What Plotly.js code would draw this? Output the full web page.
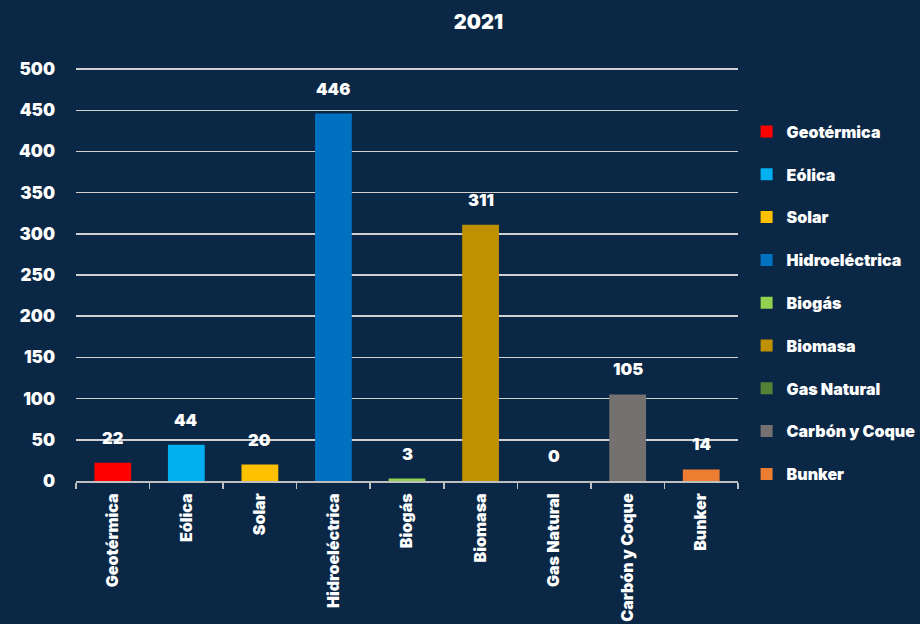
<!DOCTYPE html>
<html><head><meta charset="utf-8">
<script src="https://cdn.plot.ly/plotly-3.0.1.min.js"></script>
<style>html,body{margin:0;padding:0;background:#0a2846;}</style>
</head><body>
<div id="chart" style="width:920px;height:624px;"></div>
<script>
const categories = ["Geotérmica","Eólica","Solar","Hidroeléctrica","Biogás","Biomasa","Gas Natural","Carbón y Coque","Bunker"];
const values = [22,44,20,446,3,311,0,105,14];
const colors = ["#FF0000","#00B0F0","#FFC000","#0070C0","#92D050","#BF9000","#538135","#767171","#ED7D31"];
const yTicks = [0,50,100,150,200,250,300,350,400,450,500];

const FONT = "Inter, 'Open Sans', sans-serif";
const traces = categories.map((c,i)=>({
  type:'bar', name:c, x:[c], y:[values[i]], width:0.5,
  marker:{color:colors[i]}, legendgroup:'g'+i, hoverinfo:'x+y'
}));
const annotations = categories.map((c,i)=>({
  x:c, y:values[i], xref:'x', yref:'y', text:String(values[i]),
  showarrow:false, yanchor:'bottom', yshift:13,
  font:{family:FONT, size:16.5, color:'#ffffff', weight:900}
}));
const layout = {
  width:920, height:624,
  paper_bgcolor:'#0a2846', plot_bgcolor:'#0a2846',
  margin:{l:76, r:182, t:67, b:143, autoexpand:false},
  barmode:'overlay',
  title:{text:'2021', x:0.52, xanchor:'center', y:0.965, yanchor:'middle',
         font:{family:FONT, size:20, color:'#ffffff', weight:900}},
  showlegend:true,
  legend:{x:1.013, xanchor:'left', y:0.885, yanchor:'top', tracegroupgap:19,
          font:{family:FONT, size:16, color:'#ffffff', weight:900},
          bgcolor:'rgba(0,0,0,0)'},
  xaxis:{type:'category', categoryorder:'array', categoryarray:categories,
         tickangle:-90, tickson:'boundaries', ticks:'outside', ticklen:6, tickwidth:1.5,
         tickcolor:'#bfbfbf', showline:true, linecolor:'#bfbfbf', linewidth:2,
         ticklabelstandoff:4,
         tickfont:{family:FONT, size:16, color:'#ffffff', weight:900},
         showgrid:false, zeroline:false},
  yaxis:{range:[0,502.5], tickvals:yTicks, ticktext:yTicks.map(String),
         showgrid:true, gridcolor:'#d0d0d0', gridwidth:1.5, zeroline:false,
         showline:false, ticks:'', ticklabelstandoff:20,
         tickfont:{family:FONT, size:17, color:'#ffffff', weight:900}},
  annotations:annotations,
  font:{family:FONT, color:'#ffffff'}
};
Plotly.newPlot('chart', traces, layout, {displayModeBar:false, staticPlot:true});
</script>
</body></html>
